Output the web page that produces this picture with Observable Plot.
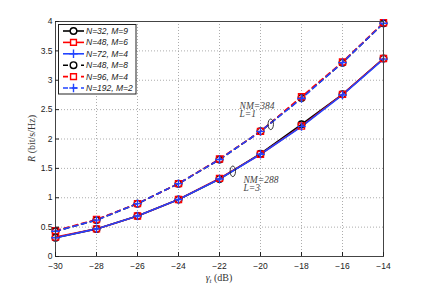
<!DOCTYPE html>
<html><head><meta charset="utf-8">
<script src="https://cdn.jsdelivr.net/npm/d3@7"></script>
<script src="https://cdn.jsdelivr.net/npm/@observablehq/plot@0.6"></script>
<style>body{margin:0;background:#fff}#c{width:424px;height:289px}</style>
</head><body><div id="c"></div>
<script>
// ---- data ----
const snr = [-30, -28, -26, -24, -22, -20, -18, -16, -14];
const r_N32_M9  = [0.32, 0.47, 0.69, 0.97, 1.32, 1.75, 2.25, 2.76, 3.37];
const r_N48_M6  = [0.33, 0.47, 0.69, 0.97, 1.33, 1.74, 2.22, 2.76, 3.37];
const r_N72_M4  = [0.32, 0.47, 0.69, 0.97, 1.32, 1.74, 2.21, 2.75, 3.36];
const r_N48_M8  = [0.43, 0.62, 0.90, 1.24, 1.65, 2.13, 2.70, 3.30, 3.97];
const r_N96_M4  = [0.44, 0.63, 0.90, 1.24, 1.66, 2.13, 2.72, 3.31, 3.98];
const r_N192_M2 = [0.43, 0.62, 0.90, 1.24, 1.65, 2.13, 2.69, 3.30, 3.97];
const seriesLabels = ["N=32, M=9", "N=48, M=6", "N=72, M=4", "N=48, M=8", "N=96, M=4", "N=192, M=2"];
const xTicks = [-30, -28, -26, -24, -22, -20, -18, -16, -14];
const yTicks = [0, 0.5, 1, 1.5, 2, 2.5, 3, 3.5, 4];
const noteX = [-19.5, -21.35];
const noteY = [2.25, 1.45];
const noteLines = ["NM=384", "L=1", "NM=288", "L=3"];
const noteLineX = [-21.02, -21.02, -20.83, -20.83];
const noteLineY = [2.57, 2.42, 1.31, 1.16];

// ---- styles ----
const colors = ["#000000", "#ff0000", "#2244ff", "#000000", "#ff0000", "#2244ff"];
const dashes = [null, null, null, "5,4", "5,4", "5,4"];
const plusSym = {draw(ctx, size){ const h = 4.2; ctx.moveTo(-h,0); ctx.lineTo(h,0); ctx.moveTo(0,-h); ctx.lineTo(0,h); }};
const ellipseSym = {draw(ctx, size){ const rx=2.7, ry=5.3, k=0.5523;
  ctx.moveTo(rx,0); ctx.bezierCurveTo(rx,ry*k,rx*k,ry,0,ry); ctx.bezierCurveTo(-rx*k,ry,-rx,ry*k,-rx,0);
  ctx.bezierCurveTo(-rx,-ry*k,-rx*k,-ry,0,-ry); ctx.bezierCurveTo(rx*k,-ry,rx,-ry*k,rx,0); ctx.closePath(); }};
const symbols = ["circle", "square", plusSym, "circle", "square", plusSym];
const allSeries = [r_N32_M9, r_N48_M6, r_N72_M4, r_N48_M8, r_N96_M4, r_N192_M2];

const marks = [
  Plot.gridX(xTicks, {stroke: "#999", strokeOpacity: 0.8, strokeDasharray: "1,2"}),
  Plot.gridY(yTicks, {stroke: "#999", strokeOpacity: 0.8, strokeDasharray: "1,2"}),
];
allSeries.forEach((ys, i) => {
  const data = snr.map((x, j) => ({x, y: ys[j]}));
  marks.push(Plot.line(data, {x: "x", y: "y", stroke: colors[i], strokeWidth: 1.6, strokeDasharray: dashes[i]}));
});
allSeries.forEach((ys, i) => {
  const data = snr.map((x, j) => ({x, y: ys[j]}));
  marks.push(Plot.dot(data, {x: "x", y: "y", stroke: colors[i], strokeWidth: 1.4, fill: "none", symbol: symbols[i], r: i % 3 === 1 ? 3.4 : 3.3}));
});
marks.push(Plot.dot(noteX.map((x, i) => ({x, y: noteY[i]})), {x: "x", y: "y", symbol: ellipseSym, stroke: "#222", strokeWidth: 0.9, fill: "none"}));
marks.push(Plot.text(noteLines.map((t, i) => ({t, x: noteLineX[i], y: noteLineY[i]})), {x: "x", y: "y", text: "t", textAnchor: "start", fontFamily: "Liberation Serif", fontStyle: "italic", fontSize: 9.5, fill: "#444"}));
marks.push(Plot.frame({stroke: "#444", strokeWidth: 1}));
marks.push(Plot.axisX(xTicks, {tickSize: -4, tickPadding: 10, fontSize: 8.5, label: null, tickFormat: d => (d < 0 ? "\u2212" : "") + Math.abs(d)}));
marks.push(Plot.axisY(yTicks, {tickSize: -4, tickPadding: 7, fontSize: 8.5, label: null, tickFormat: d => String(d)}));

const plot = Plot.plot({
  width: 424, height: 289,
  marginLeft: 55, marginRight: 41, marginTop: 21, marginBottom: 33,
  style: {fontFamily: "Liberation Sans", fontSize: "9px", color: "#222", background: "#fff"},
  x: {domain: [-30, -14]},
  y: {domain: [0, 4]},
  marks
});
document.getElementById("c").appendChild(plot);

// ---- labels and legend ----
const svg = d3.select(plot);
const xs = plot.scale("x"), ys = plot.scale("y");
const xl = svg.append("text").attr("x", (xs.apply(-30) + xs.apply(-14)) / 2).attr("y", 281)
  .attr("text-anchor", "middle").attr("font-family", "Liberation Serif").attr("font-size", 10).attr("fill", "#333");
xl.append("tspan").attr("font-style", "italic").text("\u03b3");
xl.append("tspan").attr("font-style", "italic").attr("font-size", 7).attr("dy", 2).text("t");
xl.append("tspan").attr("dy", -2).text(" (dB)");
const yc = (ys.apply(0) + ys.apply(4)) / 2;
const yl = svg.append("text").attr("transform", `translate(35,${yc}) rotate(-90)`)
  .attr("text-anchor", "middle").attr("font-family", "Liberation Serif").attr("font-size", 10).attr("fill", "#333");
yl.append("tspan").attr("font-style", "italic").text("R");
yl.append("tspan").text(" (bit/s/Hz)");

const lg = svg.append("g");
lg.append("rect").attr("x", 58.5).attr("y", 24.5).attr("width", 77.5).attr("height", 69.5)
  .attr("fill", "#fff").attr("stroke", "#222").attr("stroke-width", 1);
seriesLabels.forEach((lab, i) => {
  const yy = 31 + i * 11.4;
  lg.append("line").attr("x1", 63).attr("x2", 84).attr("y1", yy).attr("y2", yy)
    .attr("stroke", colors[i]).attr("stroke-width", 1.6).attr("stroke-dasharray", dashes[i]);
  const sym = typeof symbols[i] === "string" ? (symbols[i] === "circle" ? d3.symbolCircle : d3.symbolSquare) : symbols[i];
  lg.append("path").attr("transform", `translate(73.5,${yy})`).attr("d", d3.symbol(sym, Math.PI * 3.3 * 3.3)())
    .attr("fill", "#fff").attr("stroke", colors[i]).attr("stroke-width", 1.4);
  lg.append("text").attr("x", 86).attr("y", yy).attr("dy", "0.35em").attr("text-anchor", "start").attr("font-family", "Liberation Sans")
    .attr("font-style", "italic").attr("font-size", 8.5).attr("fill", "#222").text(lab);
});
</script></body></html>
